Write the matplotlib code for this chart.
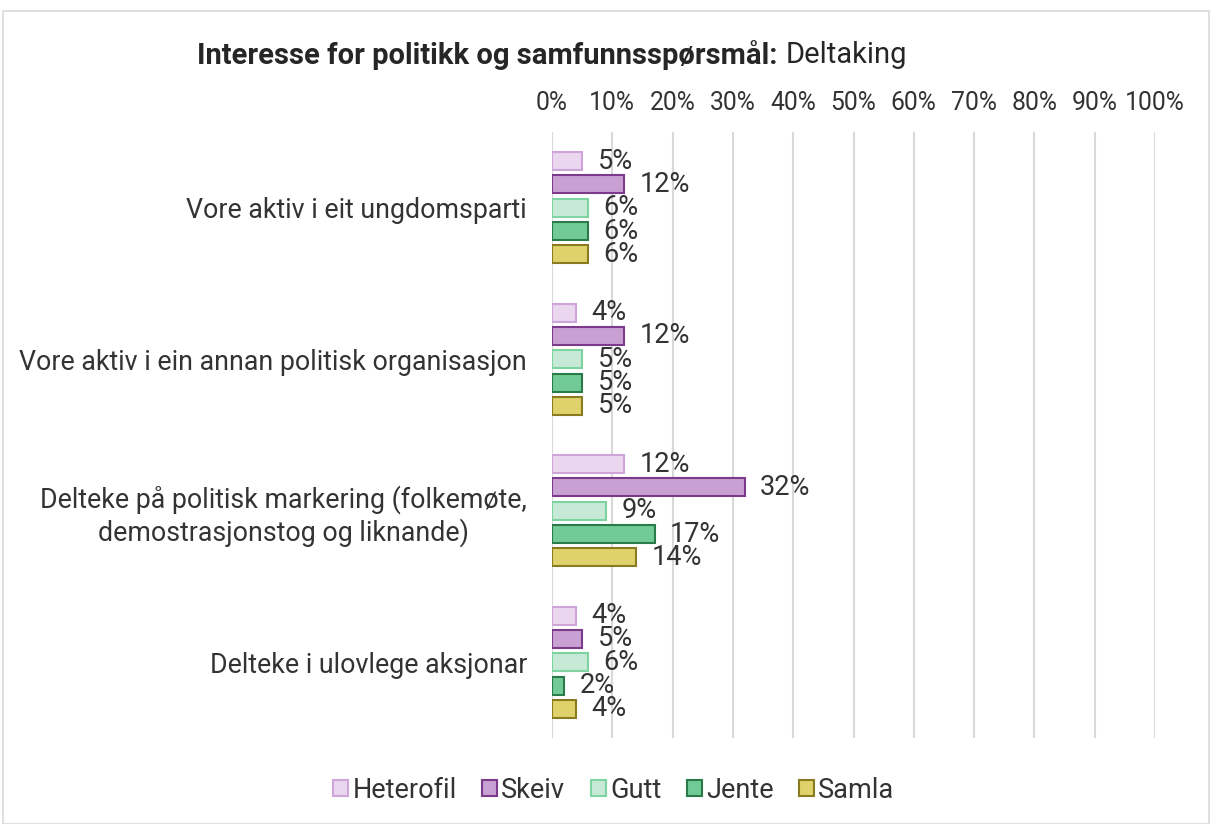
import matplotlib.pyplot as plt
import numpy as np
from matplotlib.patches import Rectangle

plt.rcParams['font.family'] = ['Roboto', 'DejaVu Sans']

categories = [
    "Vore aktiv i eit ungdomsparti",
    "Vore aktiv i ein annan politisk organisasjon",
    "Delteke på politisk markering (folkemøte,\ndemostrasjonstog og liknande)",
    "Delteke i ulovlege aksjonar",
]
groups = ["Heterofil", "Skeiv", "Gutt", "Jente", "Samla"]
heterofil = [5, 4, 12, 4]
skeiv = [12, 12, 32, 5]
gutt = [6, 5, 9, 6]
jente = [6, 5, 17, 2]
samla = [6, 5, 14, 4]
series = [heterofil, skeiv, gutt, jente, samla]

fills = ['#EAD6EE', '#C9A0D4', '#C6EAD6', '#72CB95', '#E0D26A']
edges = ['#CFA4DA', '#7B3A8A', '#7ED3A0', '#2A7A4A', '#8A7A20']

fig = plt.figure(figsize=(12.11, 8.24), dpi=100)
ax = fig.add_axes([552 / 1211, 1 - 738 / 824, (1155 - 552) / 1211, (738 - 132) / 824])

step = 0.154
height = 0.119
y = np.arange(len(categories))
for i, (vals, name) in enumerate(zip(series, groups)):
    pos = y + (i - 2) * step
    bars = ax.barh(pos, vals, height=height, color=fills[i], edgecolor=edges[i],
                   linewidth=1.5, label=name, zorder=3)
    for b, v in zip(bars, vals):
        ax.annotate(f"{v}%", (b.get_width(), b.get_y() + b.get_height() / 2),
                    xytext=(11, 0), textcoords='offset points',
                    ha='left', va='center', fontsize=19.5, color='#333333', zorder=4)

ax.set_xlim(0, 100)
ax.set_ylim(len(categories) - 0.5, -0.5)
ax.set_xticks(np.arange(0, 101, 10))
ax.set_xticklabels([f"{t}%" for t in range(0, 101, 10)])
ax.xaxis.tick_top()
ax.set_yticks(y)
ax.set_yticklabels(categories, ha='right', multialignment='center')
ax.tick_params(axis='y', length=0, pad=18, labelsize=19.3, labelcolor='#333333')
ax.tick_params(axis='x', length=0, pad=12, labelsize=17.8, labelcolor='#333333')
ax.grid(axis='x', color='#D9D9D9', linewidth=1.5, zorder=0)
for s in ax.spines.values():
    s.set_visible(False)

t1 = fig.text(197 / 1211, 1 - 55 / 824, "Interesse for politikk og samfunnsspørsmål:",
              fontsize=21, fontweight='bold', color='#262626', va='center', ha='left')
fig.canvas.draw()
bb = t1.get_window_extent()
fig.text((bb.x1 + 8) / 1211, 1 - 55 / 824, "Deltaking",
         fontsize=21, color='#262626', va='center', ha='left')

leg = fig.legend(loc='center', bbox_to_anchor=(614 / 1211, 1 - 790 / 824), ncol=5,
                 frameon=False, fontsize=19.5, handlelength=0.55, handleheight=0.55,
                 handletextpad=0.15, columnspacing=0.95, borderaxespad=0)
for t in leg.get_texts():
    t.set_color('#333333')

fig.patches.append(Rectangle((3 / 1211, 0), 1 - 5 / 1211, 1 - 11 / 824,
                             transform=fig.transFigure, fill=False,
                             edgecolor='#D9D9D9', linewidth=1.2))

fig.savefig("out.png", dpi=100)
